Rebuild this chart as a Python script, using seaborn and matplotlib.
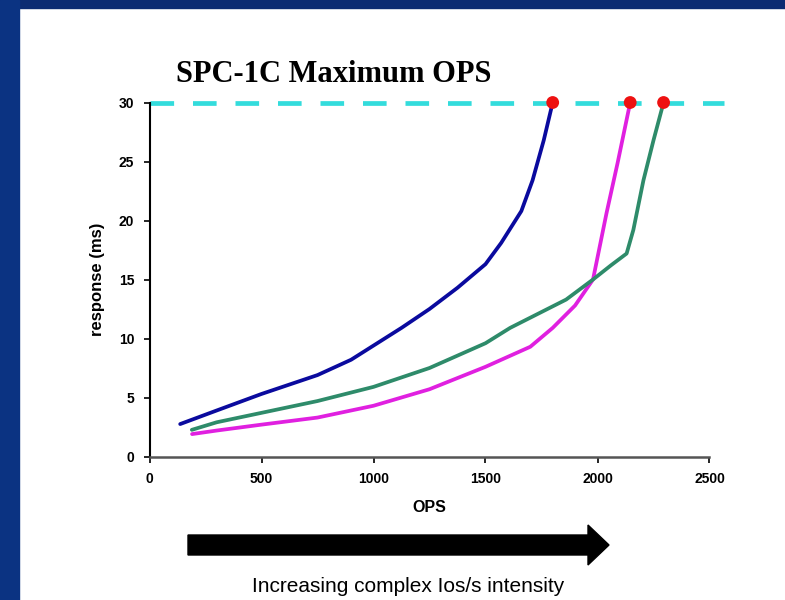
import pandas as pd
import matplotlib
matplotlib.use('Agg')
import matplotlib.pyplot as plt
import seaborn as sns
from matplotlib.patches import Rectangle, FancyArrow
from matplotlib.transforms import IdentityTransform

# values
blue_ops = [137, 300, 500, 750, 900, 1000, 1125, 1250, 1375, 1500, 1570, 1660, 1710, 1760, 1800]
blue_resp = [2.75, 3.9, 5.3, 6.9, 8.2, 9.4, 10.9, 12.5, 14.3, 16.3, 18.1, 20.8, 23.4, 26.8, 30]

magenta_ops = [190, 300, 500, 750, 1000, 1250, 1500, 1700, 1800, 1900, 1980, 2040, 2090, 2146]
magenta_resp = [1.9, 2.2, 2.7, 3.3, 4.3, 5.7, 7.6, 9.3, 10.9, 12.8, 15.0, 20.6, 24.9, 30]

green_ops = [189, 300, 500, 750, 1000, 1250, 1500, 1610, 1860, 1980, 2060, 2130, 2160, 2205, 2250, 2295]
green_resp = [2.26, 2.9, 3.7, 4.7, 5.9, 7.5, 9.6, 10.9, 13.3, 15.0, 16.2, 17.2, 19.2, 23.4, 26.8, 30]

limit_resp = 30
max_ops = [1800, 2146, 2295]

colors = {'A': '#0a0a9e', 'B': '#e020e0', 'C': '#2e8b6a'}

df = pd.concat([
    pd.DataFrame({'ops': blue_ops, 'resp': blue_resp, 'series': 'A'}),
    pd.DataFrame({'ops': magenta_ops, 'resp': magenta_resp, 'series': 'B'}),
    pd.DataFrame({'ops': green_ops, 'resp': green_resp, 'series': 'C'}),
])
peaks = pd.DataFrame({'ops': max_ops, 'resp': [limit_resp] * 3})

sns.set_style('white')
plt.rcParams['text.color'] = 'black'
W, H = 785, 600
fig = plt.figure(figsize=(W / 100, H / 100), dpi=100)
fig.patch.set_facecolor('white')

# blue slide frame
fig.add_artist(Rectangle((0, 1 - 8 / H), 1, 8 / H, transform=fig.transFigure,
                         color='#0c2b72', zorder=0))
fig.add_artist(Rectangle((0, 0), 19 / W, 1, transform=fig.transFigure,
                         color='#0b3382', zorder=0))

ax = fig.add_axes([149.5 / W, 1 - 456.5 / H, 560 / W, 354 / H])
ax.axhline(limit_resp, xmin=0, xmax=2565 / 2500, color='#33dcdc', lw=3.4,
           dashes=(5, 4), clip_on=False, zorder=2)
sns.lineplot(data=df, x='ops', y='resp', hue='series', palette=colors,
             sort=False, estimator=None, lw=2.7, legend=False, ax=ax, zorder=3)
sns.scatterplot(data=peaks, x='ops', y='resp', color='#ee1111', s=85,
                edgecolor='none', ax=ax, clip_on=False, zorder=4)

ax.set_xlim(0, 2500)
ax.set_ylim(0, 30)
ax.set_xticks([0, 500, 1000, 1500, 2000, 2500])
ax.set_yticks([0, 5, 10, 15, 20, 25, 30])
sns.despine(ax=ax)
ax.spines['left'].set_color('black')
ax.spines['left'].set_linewidth(1.5)
ax.spines['bottom'].set_color('#555555')
ax.spines['bottom'].set_linewidth(1.8)
ax.tick_params(axis='both', which='both', direction='out', length=4, width=1.2,
               colors='black', labelsize=10, pad=7, left=True, bottom=True)
for lab in ax.get_xticklabels() + ax.get_yticklabels():
    lab.set_fontfamily('Liberation Sans')
    lab.set_fontweight('bold')
ax.set_xlabel('OPS', fontsize=11.5, fontweight='bold', family='Liberation Sans',
              labelpad=10, color='black')
ax.set_ylabel('response (ms)', fontsize=12, fontweight='bold', family='Liberation Sans',
              labelpad=10, color='black')

fig.text(176 / W, 1 - 75 / H, 'SPC-1C Maximum OPS', family='Liberation Serif',
         fontweight='bold', fontsize=22, ha='left', va='center', color='black')

fig.add_artist(FancyArrow(188, H - 545, 609 - 188, 0, width=20, head_width=40,
                          head_length=21, length_includes_head=True,
                          color='black', transform=IdentityTransform()))
fig.text(408 / W, 1 - 587 / H, 'Increasing complex Ios/s intensity',
         family='Liberation Sans', fontsize=15, ha='center', va='center', color='black')

plt.savefig('out.png', dpi=100)
